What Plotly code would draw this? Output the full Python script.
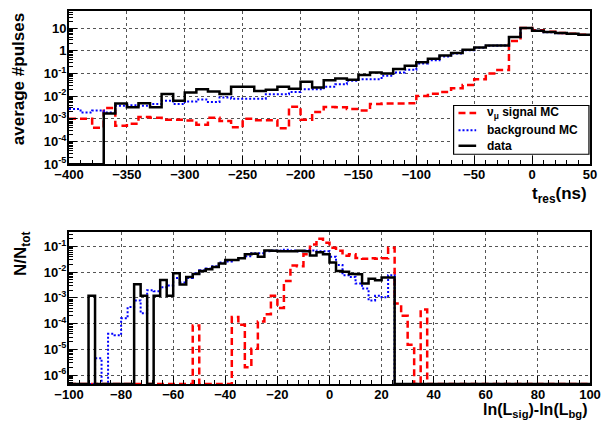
import plotly.graph_objects as go

# ---------------- top panel: t_res (ns), 10 ns bins ----------------
t_edges = list(range(-400, 51, 10))
t_data = [0, 0, 0, 1.7e-3, 4.7e-3, 3.2e-3, 4.8e-3, 3.2e-3, 1.23e-2, 6.3e-3,
          1.45e-2, 2.0e-2, 1.6e-2, 1.25e-2, 2.6e-2, 2.6e-2, 1.7e-2, 1.9e-2, 2.6e-2, 2.1e-2,
          4.3e-2, 2.4e-2, 5.0e-2, 6.0e-2, 5.2e-2, 8.5e-2, 0.11, 0.10, 0.155, 0.22,
          0.31, 0.44, 0.62, 0.8, 1.1, 1.4, 1.7, 1.7, 4.0, 10.0,
          7.5, 6.6, 6.0, 5.6, 5.0]
t_bg = [2.7e-3, 1.9e-3, 2.3e-3, 1.9e-3, 3.8e-3, 4.0e-3, 3.8e-3, 4.5e-3, 6.3e-3, 4.5e-3,
        5.8e-3, 7.0e-3, 5.5e-3, 8.7e-3, 7.7e-3, 7.7e-3, 7.7e-3, 1.2e-2, 1.2e-2, 1.5e-2,
        2.0e-2, 2.0e-2, 2.6e-2, 3.3e-2, 4.8e-2, 5.6e-2, 5.6e-2, 7.9e-2, 0.11, 0.145,
        0.27, 0.38, 0.55, 0.75, 1.05, 1.35, 1.65, 1.7, 4.0, 10.0,
        7.5, 6.5, 5.9, 5.5, 4.9]
t_sig = [1.0e-3, 1.0e-3, 4.0e-4, 3.0e-3, 5.0e-4, 6.0e-4, 1.2e-3, 1.1e-3, 9.0e-4, 9.0e-4,
         8.5e-4, 5.5e-4, 1.1e-3, 8.0e-4, 4.2e-4, 1.0e-3, 8.7e-4, 8.7e-4, 3.8e-4, 3.4e-3,
         9.0e-4, 2.0e-3, 3.3e-3, 3.2e-3, 2.7e-3, 2.3e-3, 4.5e-3, 4.7e-3, 4.7e-3, 4.8e-3,
         1.0e-2, 1.26e-2, 1.5e-2, 2.2e-2, 3.1e-2, 5.6e-2, 0.1, 0.14, 2.7, 10.0,
         8.0, 6.8, 6.0, 5.6, 5.0]

# ---------------- bottom panel: ln(Lsig)-ln(Lbg), 2.5 bins ----------------
l_edges = [-100 + 2.5 * i for i in range(81)]
l_data = [0, 0, 0, 1.2e-3, 0, 0, 0, 0, 0, 0,
          3.4e-3, 1.2e-3, 0, 1.2e-3, 5e-3, 1.2e-3, 9e-3, 3.3e-3, 6.5e-3, 8.5e-3,
          1.1e-2, 1.3e-2, 1.6e-2, 2.2e-2, 3.0e-2, 3.0e-2, 3.5e-2, 5.0e-2, 5.2e-2, 4.0e-2,
          7.0e-2, 6.8e-2, 6.5e-2, 6.5e-2, 6.5e-2, 6.8e-2, 6.5e-2, 4.5e-2, 6.0e-2, 5.0e-2,
          2.4e-2, 1.1e-2, 1.05e-2, 8.5e-3, 8.3e-3, 3.6e-3, 5.6e-3, 4.9e-3, 6.2e-3, 6.2e-3] + [0] * 30
l_bg = [0, 0, 0, 0, 4.5e-6, 0, 4e-5, 3.5e-5, 1.6e-4, 4.4e-4,
        8e-4, 2.5e-4, 2e-3, 1.8e-3, 2.6e-3, 3e-3, 6e-3, 4e-3, 6e-3, 9e-3,
        1.2e-2, 1.4e-2, 1.7e-2, 2.4e-2, 2.6e-2, 3e-2, 3.6e-2, 4.2e-2, 5.5e-2, 5.5e-2,
        6.5e-2, 7e-2, 7e-2, 7.5e-2, 7e-2, 6.5e-2, 7e-2, 7e-2, 6.5e-2, 6.5e-2,
        4e-2, 1.9e-2, 7.6e-3, 6.5e-3, 3.6e-3, 2.3e-3, 8e-4, 1.2e-3, 1.05e-3, 7.6e-3] + [0] * 30
l_sig = [0] * 19 + [8.5e-5, 0, 0, 0, 0, 0,
                    1.8e-4, 9e-5, 2e-6, 1.05e-5, 1.2e-4,
                    2.3e-4, 1.2e-3, 4e-4, 4.5e-3, 1.8e-2, 1.7e-2, 5e-2, 0.12, 0.2, 0.14,
                    9e-2, 6.8e-2, 4.4e-2, 5e-2, 3.6e-2, 3.3e-2, 3.5e-2, 3.3e-2, 3.5e-2, 9e-2,
                    6e-4, 2e-4, 1.5e-5, 0, 3.5e-4] + [0] * 25

series_names = ["ν<sub>μ</sub> signal MC", "background MC", "data"]

top_yrange = [-5, 1.75]
bot_yrange = [-6.35, -0.43]
top_ticks = [1e-5, 1e-4, 1e-3, 1e-2, 1e-1, 1, 10]
top_ticktext = ["10<sup>-5</sup>", "10<sup>-4</sup>", "10<sup>-3</sup>", "10<sup>-2</sup>",
                "10<sup>-1</sup>", "1", "10"]
bot_ticks = [1e-6, 1e-5, 1e-4, 1e-3, 1e-2, 1e-1]
bot_ticktext = ["10<sup>-6</sup>", "10<sup>-5</sup>", "10<sup>-4</sup>", "10<sup>-3</sup>",
                "10<sup>-2</sup>", "10<sup>-1</sup>"]


def steps(edges, vals, floor):
    y = [v if v > 0 else floor for v in vals]
    return list(edges), y + [y[-1]]


RED = "#ff0000"
BLUE = "#0000ff"
BLACK = "#000000"
FONT = "Liberation Sans"

fig = go.Figure()
top_floor = 10 ** top_yrange[0]
bot_floor = 10 ** bot_yrange[0]

styles = [
    (RED, "7px,4px", 2.5),
    (BLUE, "2px,2px", 2),
    (BLACK, "solid", 2.5),
]
for name, (col, dash, w), vals in zip(series_names, styles, [t_sig, t_bg, t_data]):
    x, y = steps(t_edges, vals, top_floor)
    fig.add_trace(go.Scatter(x=x, y=y, mode="lines", name=name,
                             line=dict(color=col, dash=dash, width=w, shape="hv"),
                             xaxis="x", yaxis="y"))
for name, (col, dash, w), vals in zip(series_names, styles, [l_sig, l_bg, l_data]):
    x, y = steps(l_edges, vals, bot_floor)
    fig.add_trace(go.Scatter(x=x, y=y, mode="lines", name=name,
                             line=dict(color=col, dash=dash, width=w, shape="hv"),
                             xaxis="x2", yaxis="y2"))

tickfont = dict(family=FONT, size=13, color="black", weight="bold")
common_x = dict(showline=True, linecolor="black", linewidth=2, mirror=True,
                ticks="inside", ticklen=8, tickcolor="black", tickwidth=1,
                showgrid=True, gridcolor="#555555", griddash="dot", gridwidth=1,
                zeroline=False, tickfont=tickfont)
common_y = dict(common_x, type="log")

fig.update_layout(
    width=610, height=423,
    margin=dict(l=69, r=10, t=9, b=39),
    paper_bgcolor="white", plot_bgcolor="white",
    font=dict(family=FONT, color="black"),
    showlegend=False,
    xaxis=dict(common_x, domain=[0, 1], anchor="y", range=[-400, 50], tick0=0, dtick=50,
               ticklabelstandoff=-3,
               minor=dict(ticks="inside", ticklen=4, dtick=10, tickcolor="black", showgrid=False)),
    yaxis=dict(common_y, domain=[0.5893, 1], anchor="x", range=top_yrange,
               tickmode="array", tickvals=top_ticks, ticktext=top_ticktext,
               ticklabelstandoff=-2,
               minor=dict(ticks="inside", ticklen=4, dtick="D1", tickcolor="black", showgrid=False)),
    xaxis2=dict(common_x, domain=[0, 1], anchor="y2", range=[-100, 100], tick0=0, dtick=20,
                ticklabelstandoff=-3,
                minor=dict(ticks="inside", ticklen=4, dtick=4, tickcolor="black", showgrid=False)),
    yaxis2=dict(common_y, domain=[0, 0.408], anchor="x2", range=bot_yrange,
                tickmode="array", tickvals=bot_ticks, ticktext=bot_ticktext,
                ticklabelstandoff=-2,
                minor=dict(ticks="inside", ticklen=4, dtick="D1", tickcolor="black", showgrid=False)),
)

# ---- legend box (drawn in the top panel, ROOT TLegend style) ----
fig.add_shape(type="rect", xref="paper", yref="paper", x0=0.7382, x1=0.998, y0=0.616, y1=0.7467,
              line=dict(color="black", width=1.2), fillcolor="white", layer="above")
row_y = [0.7267, 0.680, 0.6387]
for name, (col, dash, w), ry in zip(series_names, styles, row_y):
    fig.add_shape(type="line", xref="paper", yref="paper", x0=0.7476, x1=0.7815, y0=ry, y1=ry,
                  line=dict(color=col, dash=dash, width=w), layer="above")
    fig.add_annotation(text=name, xref="paper", yref="paper", x=0.7985, y=ry,
                       xanchor="left", yanchor="middle", showarrow=False,
                       font=dict(family=FONT, size=12, color="black", weight="bold"))

title_font = dict(family=FONT, size=17, color="black", weight="bold")
fig.add_annotation(text="average #pulses", xref="paper", yref="paper",
                   x=-0.098, y=0.817, textangle=-90, showarrow=False,
                   xanchor="center", yanchor="middle", font=title_font)
fig.add_annotation(text="N/N<sub>tot</sub>", xref="paper", yref="paper",
                   x=-0.09, y=0.349, textangle=-90, showarrow=False,
                   xanchor="center", yanchor="middle", font=title_font)
fig.add_annotation(text="t<sub>res</sub>(ns)", xref="paper", yref="paper",
                   x=0.998, y=0.506, showarrow=False,
                   xanchor="right", yanchor="middle", font=dict(title_font, size=17))
fig.add_annotation(text="ln(L<sub>sig</sub>)-ln(L<sub>bg</sub>)", xref="paper", yref="paper",
                   x=0.998, y=-0.072, showarrow=False,
                   xanchor="right", yanchor="middle", font=dict(title_font, size=16))

fig.write_html("out.html")
